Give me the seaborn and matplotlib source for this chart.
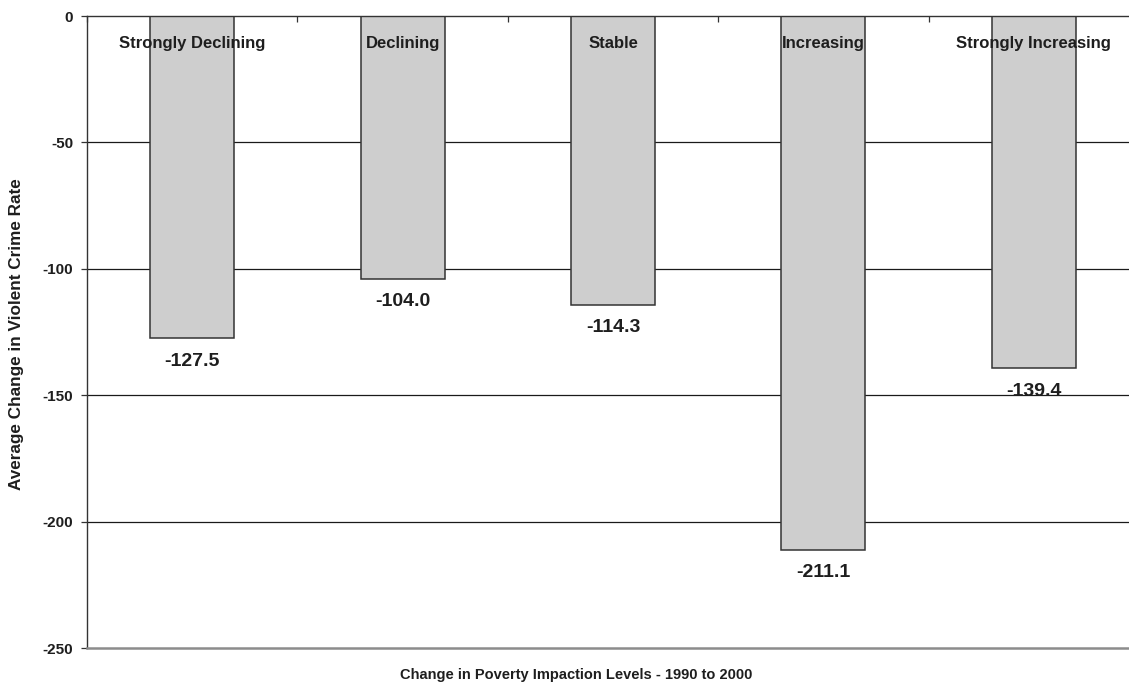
import matplotlib
matplotlib.use("Agg")
import matplotlib.pyplot as plt
import seaborn as sns
import pandas as pd

categories = ["Strongly Declining", "Declining", "Stable", "Increasing", "Strongly Increasing"]
values = [-127.5, -104.0, -114.3, -211.1, -139.4]
y_ticks = [0, -50, -100, -150, -200, -250]

sns.set_theme(style="white")
plt.rcParams["font.family"] = ["Liberation Sans", "DejaVu Sans"]
plt.rcParams["font.weight"] = "bold"

df = pd.DataFrame({"level": categories, "change": values})

fig = plt.figure(figsize=(11.29, 6.87), dpi=100)
ax = fig.add_axes([87 / 1129, 39 / 687, 1052 / 1129, 632 / 687])

# horizontal reference lines sit behind the bars
for yv in y_ticks[1:-1]:
    ax.axhline(yv, color="#1a1a1a", lw=0.9, zorder=0)

sns.barplot(data=df, x="level", y="change", order=categories, color="#cecece",
            edgecolor="#333333", linewidth=1.1, width=0.4, saturation=1, ax=ax, zorder=2)

ax.set_xlim(-0.5, len(categories) - 0.5)
ax.set_ylim(-250, 0)

# category names just beneath the zero line
for i, name in enumerate(categories):
    ax.text(i, -10.7, name, ha="center", va="center", fontsize=12,
            fontweight="bold", color="#1e1e1e", zorder=3)

# value labels under each bar end
for i, v in enumerate(values):
    ax.annotate(f"{v:.1f}", xy=(i, v), xytext=(0, -16.5), textcoords="offset points",
                ha="center", va="center", fontsize=14, fontweight="bold",
                color="#1e1e1e", zorder=3)

# category boundary ticks on the zero line
ax.xaxis.tick_top()
ax.set_xticks([i - 0.5 for i in range(len(categories) + 1)])
ax.set_xticklabels([])
ax.tick_params(axis="x", direction="in", length=4, width=0.9, color="#333333", top=True, bottom=False)

ax.set_yticks(y_ticks)
ax.set_yticklabels([str(t) for t in y_ticks])
ax.tick_params(axis="y", direction="out", length=4, width=0.9, color="#333333",
               left=True, pad=6, labelsize=11, labelcolor="#1e1e1e")
for lab in ax.get_yticklabels():
    lab.set_fontweight("bold")

ax.set_xlabel("")
ax.set_ylabel("")

for side in ["left", "top"]:
    ax.spines[side].set_color("#333333")
    ax.spines[side].set_linewidth(1.0)
ax.spines["bottom"].set_color("#8c8c8c")
ax.spines["bottom"].set_linewidth(1.8)
ax.spines["right"].set_visible(False)

fig.text(17 / 1129, 1 - 334 / 687, "Average Change in Violent Crime Rate", rotation=90,
         ha="center", va="center", fontsize=12.3, fontweight="bold", color="#1e1e1e")
fig.text(576 / 1129, 1 - 675 / 687, "Change in Poverty Impaction Levels - 1990 to 2000",
         ha="center", va="center", fontsize=10.5, fontweight="bold", color="#1e1e1e")

fig.savefig("out.png", dpi=100)
